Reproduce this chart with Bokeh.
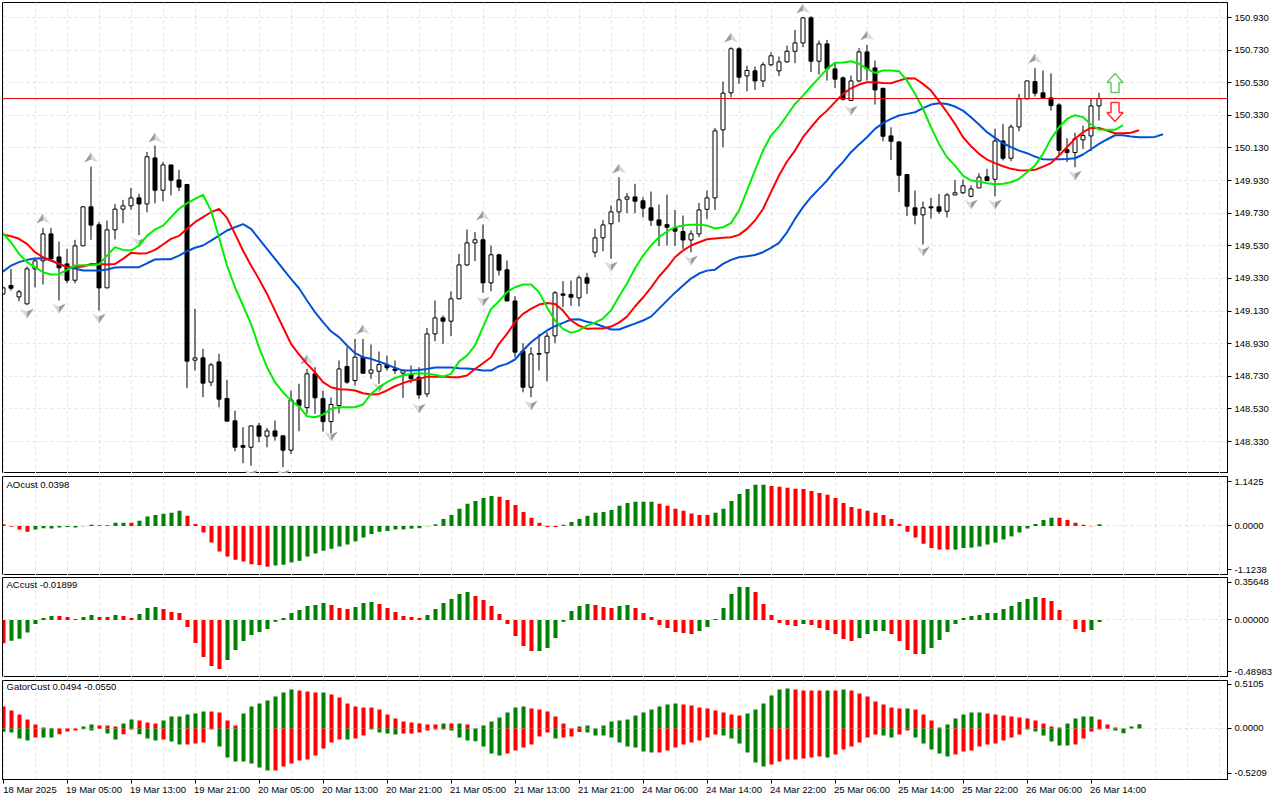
from bokeh.plotting import figure
from bokeh.layouts import column
from bokeh.models import (ColumnDataSource, FixedTicker, Grid, Label, LinearAxis,
                          PrintfTickFormatter, Range1d, Span)
from bokeh.embed import file_html
from bokeh.resources import INLINE

# ---- candles -------------------------------------------------------------
opens = [149.235,149.287,149.217,149.174,149.389,149.438,149.603,149.462,149.419,149.319,
149.530,149.769,149.659,149.272,149.628,149.755,149.775,149.824,149.787,150.069,
149.871,150.026,149.934,149.906,148.829,148.843,148.694,148.818,148.594,148.457,
148.305,148.295,148.426,148.363,148.395,148.365,148.277,148.585,148.538,148.745,
148.593,148.452,148.551,148.790,148.704,148.847,148.749,148.761,148.802,148.775,
148.749,148.741,148.724,148.622,148.990,149.088,149.068,149.205,149.413,149.548,
149.567,149.303,149.475,149.383,149.192,148.884,148.663,148.865,148.874,148.978,
149.235,149.231,149.211,149.334,149.491,149.579,149.665,149.738,149.816,149.830,
149.806,149.763,149.689,149.660,149.638,149.618,149.566,149.603,149.754,149.824,
150.241,150.468,150.738,150.572,150.603,150.541,150.640,150.603,150.658,150.723,
150.774,150.928,150.662,150.768,150.615,150.560,150.421,150.541,150.719,150.621,
150.496,150.204,150.167,149.967,149.763,149.720,149.769,149.769,149.742,149.842,
149.855,149.834,149.885,149.953,149.938,150.173,150.067,150.259,150.431,150.537,
150.468,150.437,150.394,150.120,150.102,150.180,150.204,150.388]
highs = [149.280,149.389,149.260,149.403,149.450,149.640,149.640,149.556,149.511,149.567,
149.775,150.016,149.677,149.685,149.787,149.812,149.885,149.849,150.106,150.145,
150.045,150.026,149.996,149.910,149.143,148.898,148.812,148.868,148.708,148.520,
148.418,148.426,148.444,148.414,148.459,148.367,148.643,148.684,148.775,148.786,
148.643,148.600,148.827,148.908,148.959,148.959,148.925,148.882,148.857,148.827,
148.775,148.796,148.786,149.027,149.195,149.103,149.250,149.481,149.630,149.614,
149.661,149.532,149.481,149.440,149.221,148.933,148.908,148.990,149.000,149.252,
149.313,149.317,149.348,149.364,149.634,149.689,149.777,149.951,149.853,149.910,
149.828,149.863,149.783,149.844,149.750,149.716,149.624,149.793,149.869,150.253,
150.537,150.748,150.748,150.635,150.629,150.656,150.717,150.691,150.758,150.854,
150.932,150.938,150.789,150.793,150.656,150.568,150.574,150.742,150.762,150.666,
150.498,150.257,150.171,149.971,149.869,149.801,149.824,149.848,149.853,149.934,
149.936,149.900,149.975,150.002,150.247,150.278,150.274,150.462,150.543,150.621,
150.605,150.588,150.404,150.190,150.223,150.267,150.431,150.468]
lows = [149.230,149.256,149.190,149.170,149.276,149.293,149.450,149.195,149.301,149.301,
149.530,149.567,149.133,149.272,149.569,149.669,149.751,149.595,149.736,149.791,
149.804,149.840,149.865,148.657,148.765,148.602,148.669,148.540,148.455,148.271,
148.197,148.181,148.326,148.295,148.336,148.173,148.254,148.393,148.500,148.500,
148.391,148.379,148.502,148.684,148.673,148.745,148.714,148.684,148.765,148.745,
148.598,148.688,148.592,148.602,148.945,148.929,148.976,149.203,149.407,149.436,
149.242,149.252,149.348,149.190,148.847,148.632,148.602,148.765,148.700,148.933,
149.154,149.162,149.158,149.235,149.460,149.497,149.450,149.675,149.730,149.730,
149.705,149.652,149.528,149.532,149.528,149.511,149.491,149.583,149.695,149.750,
150.135,150.441,150.523,150.478,150.486,150.503,150.631,150.572,150.654,150.650,
150.748,150.595,150.580,150.543,150.498,150.421,150.417,150.533,150.543,150.396,
150.171,150.057,149.859,149.712,149.662,149.538,149.697,149.726,149.705,149.842,
149.848,149.828,149.885,149.926,149.834,150.053,150.049,150.233,150.431,150.445,
150.431,150.359,150.084,150.043,150.012,150.124,150.110,150.298]
closes = [149.272,149.270,149.248,149.389,149.438,149.603,149.450,149.395,149.319,149.530,
149.769,149.657,149.272,149.628,149.755,149.775,149.824,149.787,150.076,149.871,
150.026,149.932,149.890,148.823,148.843,148.688,148.800,148.590,148.455,148.295,
148.295,148.426,148.363,148.395,148.363,148.277,148.585,148.549,148.745,148.598,
148.452,148.557,148.775,148.694,148.847,148.749,148.769,148.802,148.782,148.765,
148.765,148.716,148.616,148.990,149.088,149.068,149.205,149.413,149.548,149.567,
149.303,149.475,149.381,149.192,148.878,148.663,148.867,148.870,148.976,149.242,
149.227,149.215,149.334,149.301,149.579,149.658,149.738,149.812,149.830,149.804,
149.761,149.687,149.656,149.644,149.620,149.566,149.603,149.750,149.824,150.235,
150.466,150.738,150.564,150.605,150.541,150.640,150.695,150.658,150.723,150.774,
150.928,150.662,150.768,150.615,150.552,150.429,150.541,150.719,150.615,150.486,
150.202,150.171,149.963,149.773,149.718,149.763,149.763,149.742,149.842,149.855,
149.898,149.879,149.951,149.930,150.173,150.067,150.259,150.431,150.541,150.466,
150.439,150.390,150.116,150.102,150.186,150.206,150.388,150.433]

# ---- alligator -----------------------------------------------------------
lips = [149.607,149.552,149.481,149.430,149.399,149.368,149.354,149.356,149.383,149.409,
149.411,149.411,149.415,149.470,149.522,149.505,149.501,149.532,149.591,149.630,
149.654,149.706,149.757,149.791,149.818,149.843,149.746,149.583,149.409,149.276,
149.164,149.051,148.908,148.786,148.694,148.632,148.581,148.545,148.485,148.479,
148.495,148.530,148.540,148.540,148.540,148.557,148.622,148.663,148.694,148.720,
148.735,148.745,148.749,148.745,148.739,148.728,148.745,148.820,148.857,148.919,
149.031,149.143,149.190,149.246,149.276,149.293,149.293,149.246,149.154,149.072,
149.021,148.996,149.011,149.041,149.059,149.084,149.133,149.219,149.299,149.391,
149.470,149.532,149.583,149.618,149.644,149.654,149.660,149.660,149.654,149.636,
149.644,149.669,149.746,149.869,149.992,150.114,150.206,150.261,150.329,150.400,
150.451,150.507,150.560,150.615,150.652,150.654,150.662,150.646,150.615,150.590,
150.605,150.605,150.601,150.543,150.462,150.370,150.257,150.155,150.073,150.022,
149.961,149.930,149.924,149.914,149.908,149.910,149.920,149.940,149.981,150.022,
150.094,150.186,150.257,150.308,150.331,150.319,150.274,150.243,150.241,150.241,150.270]
teeth = [149.599,149.589,149.573,149.542,149.491,149.460,149.440,149.419,149.399,149.399,
149.403,149.419,149.419,149.415,149.419,149.450,149.487,149.483,149.485,149.505,
149.538,149.573,149.591,149.634,149.675,149.706,149.736,149.757,149.701,149.603,
149.501,149.409,149.327,149.235,149.133,149.031,148.929,148.865,148.806,148.755,
148.694,148.663,148.651,148.649,148.643,148.626,148.618,148.622,148.643,148.669,
148.688,148.704,148.714,148.728,148.728,148.728,148.724,148.724,148.735,148.775,
148.810,148.847,148.929,148.990,149.062,149.113,149.143,149.170,149.180,149.174,
149.133,149.072,149.041,149.021,149.023,149.023,149.035,149.059,149.096,149.158,
149.213,149.274,149.342,149.397,149.460,149.501,149.532,149.552,149.570,149.575,
149.579,149.583,149.597,149.634,149.685,149.756,149.859,149.961,150.047,150.114,
150.196,150.257,150.315,150.359,150.411,150.462,150.496,150.519,150.533,150.533,
150.529,150.527,150.543,150.558,150.556,150.523,150.482,150.417,150.349,150.278,
150.196,150.141,150.094,150.059,150.037,150.018,150.002,149.994,149.992,149.996,
150.016,150.037,150.084,150.135,150.186,150.227,150.253,150.253,150.237,150.220,
150.220,150.223,150.239]
jaw = [149.372,149.409,149.430,149.444,149.452,149.454,149.440,149.419,149.399,149.391,
149.379,149.379,149.379,149.385,149.397,149.399,149.399,149.399,149.423,149.446,
149.448,149.448,149.470,149.497,149.518,149.532,149.562,149.593,149.624,149.644,
149.663,149.634,149.573,149.511,149.450,149.389,149.327,149.270,149.195,149.123,
149.062,149.006,148.970,148.919,148.872,148.847,148.837,148.820,148.802,148.782,
148.765,148.765,148.769,148.775,148.784,148.784,148.784,148.780,148.778,148.773,
148.765,148.765,148.792,148.806,148.833,148.888,148.939,148.976,149.011,149.037,
149.058,149.078,149.080,149.064,149.053,149.035,149.017,149.017,149.035,149.053,
149.072,149.096,149.145,149.194,149.243,149.286,149.329,149.360,149.378,149.384,
149.419,149.444,149.460,149.466,149.474,149.491,149.517,149.548,149.613,149.695,
149.767,149.828,149.879,149.930,149.992,150.043,150.104,150.151,150.196,150.247,
150.282,150.308,150.329,150.339,150.349,150.374,150.396,150.404,150.400,150.384,
150.359,150.319,150.274,150.227,150.192,150.159,150.135,150.114,150.098,150.077,
150.061,150.059,150.061,150.063,150.067,150.090,150.122,150.155,150.182,150.208,
150.208,150.200,150.196,150.196,150.198,150.214]

# ---- fractals and signals ------------------------------------------------
frac_up_bar = [5,11,19,38,45,60,77,91,100,108,129]
frac_up_val = [149.667,150.041,150.163,148.802,148.986,149.685,149.973,150.776,150.954,150.789,150.648]
frac_dn_bar = [3,7,12,17,31,35,41,47,52,60,66,76,86,106,115,121,124,134]
frac_dn_val = [149.145,149.176,149.115,149.581,148.158,148.158,148.391,148.692,148.563,149.219,
               148.581,149.434,149.470,150.390,149.526,149.814,149.814,149.992]
signal_bar = 139
signal_up = 150.470
signal_dn = 150.409
last_price = 150.433

# ---- oscillators ---------------------------------------------------------
ao = [0.04,-0.02,-0.09,-0.15,-0.09,-0.06,-0.07,-0.04,-0.03,-0.04,-0.01,0.03,0.02,0.02,0.08,0.08,0.08,0.13,
0.24,0.28,0.31,0.34,0.39,0.26,0.05,-0.17,-0.43,-0.66,-0.79,-0.87,-0.92,-0.99,-1.01,-1.05,-1.02,-1.00,-0.94,
-0.90,-0.79,-0.71,-0.64,-0.59,-0.53,-0.48,-0.40,-0.30,-0.21,-0.15,-0.13,-0.09,-0.09,-0.07,-0.06,-0.01,0.04,
0.18,0.28,0.44,0.57,0.64,0.72,0.77,0.75,0.67,0.54,0.36,0.21,0.08,-0.03,-0.03,0.03,0.10,0.18,0.26,0.34,0.36,
0.41,0.52,0.59,0.62,0.62,0.62,0.57,0.52,0.44,0.39,0.32,0.28,0.28,0.34,0.44,0.64,0.82,0.95,1.06,1.06,1.03,
1.01,0.98,0.96,0.95,0.90,0.85,0.80,0.72,0.59,0.49,0.44,0.39,0.34,0.28,0.18,0.05,-0.15,-0.30,-0.46,-0.57,
-0.61,-0.61,-0.61,-0.57,-0.56,-0.53,-0.48,-0.43,-0.35,-0.27,-0.17,-0.07,0.05,0.15,0.21,0.21,0.15,0.08,0.03,-0.01,0.04]
ao_col = "r"*4+"g"*8+"r"+"g"*3+"r"+"g"*6+"r"*11+"g"*28+"r"*8+"g"*12+"r"*7+"g"*7+"r"*23+"g"*13+"r"*5+"g"
ac = [-0.222,-0.197,-0.178,-0.120,-0.038,0.019,0.038,0.038,0.029,0.010,0.029,0.048,0.029,0.029,0.048,0.038,
0.019,0.057,0.114,0.124,0.105,0.076,0.067,-0.067,-0.219,-0.352,-0.437,-0.466,-0.380,-0.285,-0.200,-0.143,
-0.114,-0.086,-0.016,0.019,0.067,0.095,0.133,0.143,0.162,0.143,0.114,0.105,0.124,0.162,0.171,0.152,0.114,
0.076,0.038,0.029,0.019,0.048,0.105,0.162,0.200,0.247,0.266,0.228,0.190,0.133,0.057,-0.038,-0.152,-0.247,
-0.295,-0.295,-0.266,-0.171,-0.016,0.086,0.133,0.152,0.143,0.124,0.114,0.133,0.143,0.114,0.067,0.029,-0.048,
-0.076,-0.114,-0.124,-0.133,-0.105,-0.067,0.010,0.114,0.247,0.314,0.314,0.266,0.152,0.048,-0.029,-0.048,
-0.057,-0.038,-0.048,-0.076,-0.095,-0.133,-0.181,-0.200,-0.171,-0.133,-0.105,-0.105,-0.133,-0.200,-0.285,
-0.323,-0.323,-0.266,-0.190,-0.114,-0.038,0.019,0.038,0.048,0.067,0.067,0.105,0.133,0.171,0.200,0.219,0.209,
0.181,0.095,-0.003,-0.086,-0.114,-0.095,-0.019]
ac_col = "r"+"g"*6+"r"*3+"g"*2+"r"*2+"g"+"r"*2+"g"*3+"r"*8+"g"*13+"r"*3+"g"*3+"r"*6+"g"*6+"r"*8+"g"*7+"r"*3+"g"*2+"r"*8+"g"*7+"r"*6+"g"+"r"*6+"g"*4+"r"*4+"g"*15+"r"*6+"g"*2
gator_up = [.255,.208,.162,.104,.046,.012,.004,0,0,0,.023,.046,.035,.035,.023,.058,.104,.093,.069,.058,.093,.139,
.139,.162,.174,.197,.197,.185,.093,.035,.174,.255,.290,.324,.371,.417,.452,.440,.428,.417,.417,.394,.359,.290,
.255,.243,.243,.220,.162,.116,.081,.069,.058,.046,.046,.058,.058,.058,.046,0,.035,.081,.127,.185,.243,.255,.232,
.220,.197,.139,.058,0,.023,.035,0,.035,.081,.093,.104,.151,.185,.220,.255,.278,.290,.278,.266,.243,.232,.208,.185,
.162,.151,.174,.220,.290,.382,.452,.463,.452,.440,.440,.440,.440,.440,.452,.440,.405,.371,.313,.278,.243,.232,.232,
.220,.162,.093,.012,.046,.116,.162,.185,.185,.174,.162,.151,.139,.127,.116,.093,.058,.023,.012,.058,.116,.139,.139,
.104,.046,.012,0,.023,.0494]
gator_up_col = "r"*6+"g"+"r"*3+"g"*2+"r"*3+"g"*2+"r"*3+"g"*6+"r"*4+"g"*7+"r"*3+"g"+"r"*14+"g"+"r"+"g"+"r"*2+"g"*6+"r"*6+"g"*2+"r"+"g"*10+"r"*8+"g"*6+"r"*4+"g"+"r"+"g"+"r"*7+"g"+"r"*4+"g"*5+"r"*10+"g"*4+"r"*4+"g"*2
gator_dn = [-.039,-.046,-.116,-.139,-.104,-.104,-.104,-.066,-.035,-.023,-.008,-.023,-.004,-.058,-.127,-.066,-.012,
-.066,-.116,-.139,-.127,-.151,-.185,-.185,-.174,-.162,-.012,-.208,-.336,-.382,-.382,-.405,-.452,-.486,-.486,-.440,
-.405,-.371,-.359,-.313,-.232,-.162,-.127,-.127,-.116,-.081,-.012,-.046,-.058,-.069,-.058,-.058,-.046,-.023,-.012,
-.012,-.023,-.104,-.139,-.147,-.208,-.290,-.313,-.290,-.255,-.220,-.185,-.093,-.046,-.116,-.104,-.093,-.042,-.046,
-.081,-.081,-.104,-.162,-.208,-.220,-.266,-.278,-.278,-.255,-.220,-.185,-.162,-.139,-.104,-.069,-.081,-.116,-.174,
-.278,-.394,-.440,-.417,-.382,-.359,-.359,-.347,-.336,-.324,-.336,-.301,-.243,-.208,-.162,-.104,-.069,-.081,-.104,
-.069,-.023,-.104,-.174,-.243,-.290,-.324,-.301,-.266,-.255,-.208,-.185,-.174,-.139,-.104,-.069,-.012,-.035,-.081,
-.151,-.197,-.197,-.185,-.116,-.035,-.012,-.004,-.023,-.055]
gator_dn_col = "g"*4+"r"+"g"*2+"r"*3+"g"*2+"r"+"g"*2+"r"*2+"g"*3+"r"+"g"*2+"r"*4+"g"*7+"r"*9+"g"+"r"*2+"g"*4+"r"*6+"g"*7+"r"*6+"g"+"r"*3+"g"*9+"r"*8+"g"*6+"r"*7+"g"+"r"*6+"g"*2+"r"*2+"g"*5+"r"*9+"g"*6+"r"*5+"g"*2

# ---- labels --------------------------------------------------------------
price_ticks = [150.93,150.73,150.53,150.33,150.13,149.93,149.73,149.53,149.33,149.13,148.93,148.73,148.53,148.33]
ao_ticks = [1.1425,0.0,-1.1238]
ac_ticks = [0.35648,0.0,-0.48983]
gator_ticks = [0.5105,0.0,-0.5209]
time_labels = ["18 Mar 2025","19 Mar 05:00","19 Mar 13:00","19 Mar 21:00","20 Mar 05:00","20 Mar 13:00",
               "20 Mar 21:00","21 Mar 05:00","21 Mar 13:00","21 Mar 21:00","24 Mar 06:00","24 Mar 14:00",
               "24 Mar 22:00","25 Mar 06:00","25 Mar 14:00","25 Mar 22:00","26 Mar 06:00","26 Mar 14:00"]

FONT = "Liberation Sans"
FS = "9.5px"
RED, GREEN = "#ff0000", "#008000"
GRID = "#e2e2e2"
XR = (-0.0625, 153.0625)
grid_bars = list(range(0, 154, 4))
cmap = {"r": RED, "g": GREEN}

def pane(height, top, bottom, ticks, fmt, border_top, border_bottom, hticks):
    p = figure(width=1280, height=height, output_backend="svg", toolbar_location=None,
               x_range=Range1d(*XR), y_range=Range1d(bottom, top),
               x_axis_location=None, y_axis_location=None,
               min_border_left=2, min_border_right=53, min_border_top=border_top,
               min_border_bottom=border_bottom, background_fill_color="white",
               outline_line_color="black", outline_line_width=1)
    p.center = []
    p.add_layout(Grid(dimension=0, ticker=FixedTicker(ticks=grid_bars), grid_line_color=GRID, grid_line_dash="3 3"))
    p.add_layout(Grid(dimension=1, ticker=FixedTicker(ticks=hticks), grid_line_color=GRID, grid_line_dash="3 3"))
    ax = LinearAxis(ticker=FixedTicker(ticks=ticks), formatter=PrintfTickFormatter(format=fmt),
                    major_tick_out=4, major_tick_in=0, minor_tick_line_color=None,
                    major_label_standoff=3, major_label_text_font=FONT, major_label_text_font_size=FS,
                    major_label_text_color="black", axis_line_color="black")
    p.add_layout(ax, "right")
    return p

def title(p, text, y):
    p.add_layout(Label(x=0.44, y=y, text=text, text_font=FONT, text_font_size=FS,
                       text_color="black", text_baseline="middle"))

def hist(p, vals, cols):
    n = len(vals)
    p.vbar(x=[i + 0.0625 for i in range(n)], top=vals, bottom=[0]*n, width=0.5,
           fill_color=[cmap[c] for c in cols[:n]], line_color=None)

# ---- main pane -----------------------------------------------------------
main = pane(473, 151.022, 148.134, price_ticks, "%.3f", 2, 0, price_ticks)
bars = list(range(len(opens)))
up = [c >= o for o, c in zip(opens, closes)]
src = ColumnDataSource(dict(x=bars, h=highs, l=lows,
                            t=[max(o, c) for o, c in zip(opens, closes)],
                            b=[min(o, c) for o, c in zip(opens, closes)],
                            f=["white" if u else "black" for u in up]))
main.segment("x", "h", "x", "l", source=src, line_color="black", line_width=1)
main.vbar(x="x", top="t", bottom="b", width=0.5, source=src, fill_color="f", line_color="black", line_width=1)

AH, AW, AN = 0.061, 0.85, 0.018
for bar, val in zip(frac_up_bar, frac_up_val):
    main.patch([bar, bar - AW, bar], [val + AH, val, val + AN], fill_color="#9c9c9c", line_color=None)
    main.patch([bar, bar + AW, bar], [val + AH, val, val + AN], fill_color="#d8d8d8", line_color=None)
for bar, val in zip(frac_dn_bar, frac_dn_val):
    main.patch([bar, bar - AW, bar], [val - AH, val, val - AN], fill_color="#d8d8d8", line_color=None)
    main.patch([bar, bar + AW, bar], [val - AH, val, val - AN], fill_color="#9c9c9c", line_color=None)

main.line(list(range(len(jaw))), jaw, line_color="#0050d8", line_width=2)
main.line(list(range(len(teeth))), teeth, line_color="#ff0000", line_width=2)
main.line(list(range(len(lips))), lips, line_color="#00ee00", line_width=2)

main.add_layout(Span(location=last_price, dimension="width", line_color="#e00000", line_width=1))

HW, SW, HH, TH = 1.0, 0.5, 0.055, 0.117
b = signal_bar
main.patch([b - SW, b + SW, b + SW, b + HW, b, b - HW, b - SW],
           [signal_up, signal_up, signal_up + TH - HH, signal_up + TH - HH, signal_up + TH, signal_up + TH - HH, signal_up + TH - HH],
           fill_color="white", line_color="#66cc66", line_width=1.5)
main.patch([b - SW, b + SW, b + SW, b + HW, b, b - HW, b - SW],
           [signal_dn, signal_dn, signal_dn - TH + HH, signal_dn - TH + HH, signal_dn - TH, signal_dn - TH + HH, signal_dn - TH + HH],
           fill_color="white", line_color="#ff3030", line_width=1.5)

main.add_layout(Label(x=153.5, y=last_price, text="150.433", text_font=FONT, text_font_size=FS,
                      text_color="white", text_baseline="middle", background_fill_color="#c00000",
                      padding=2))

# ---- oscillator panes ----------------------------------------------------
p_ao = pane(102, 1.273, -1.278, ao_ticks, "%.4f", 3, 0, [0])
hist(p_ao, ao, ao_col)
title(p_ao, "AOcust 0.0398", 1.067)

p_ac = pane(102, 0.404, -0.5466, ac_ticks, "%.5f", 2, 0, [0])
hist(p_ac, ac, ac_col)
title(p_ac, "ACcust -0.01899", 0.333)

p_g = pane(123, 0.556, -0.591, gator_ticks, "%.4f", 3, 21, [0])
hist(p_g, gator_up, gator_up_col)
hist(p_g, gator_dn, gator_dn_col)
title(p_g, "GatorCust 0.0494 -0.0550", 0.487)

tick_bars = [8 * k for k in range(len(time_labels))]
tick_ax = LinearAxis(ticker=FixedTicker(ticks=tick_bars), major_tick_out=4, major_tick_in=0,
                     minor_tick_line_color=None, major_label_standoff=0,
                     major_label_overrides={t: "" for t in tick_bars},
                     axis_line_color="black")
p_g.add_layout(tick_ax, "below")
text_bars = [t + 3.375 for t in tick_bars]
text_ax = LinearAxis(ticker=FixedTicker(ticks=text_bars), major_tick_out=0, major_tick_in=0,
                     major_tick_line_color=None, minor_tick_line_color=None, axis_line_color=None,
                     major_label_standoff=0, major_label_text_font=FONT, major_label_text_font_size=FS,
                     major_label_text_color="black",
                     major_label_overrides=dict(zip(text_bars, time_labels)))
p_g.add_layout(text_ax, "below")

page = column(main, p_ao, p_ac, p_g, spacing=0)
open("out.html", "w").write(file_html(page, INLINE))
